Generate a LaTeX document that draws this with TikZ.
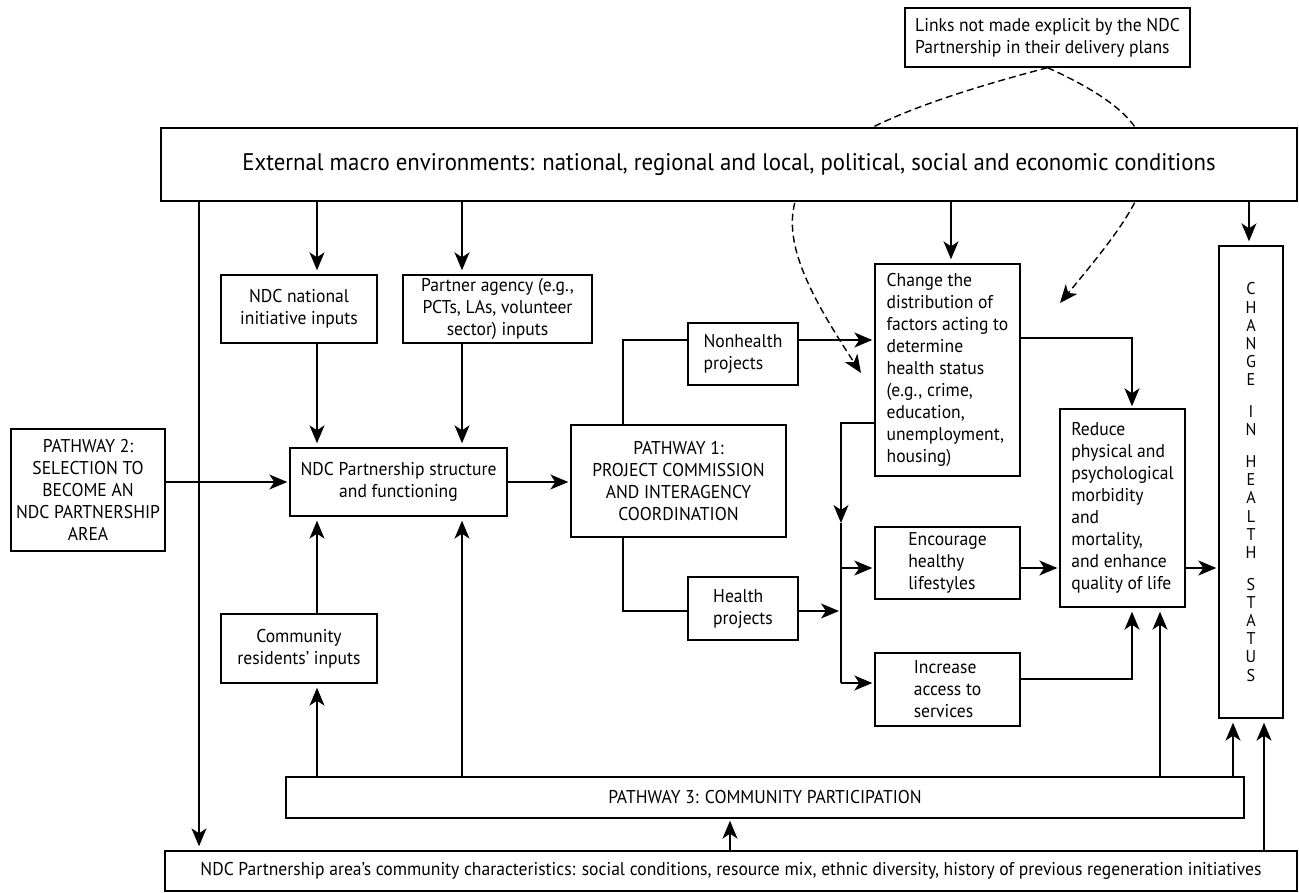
\documentclass[tikz,border=0pt]{standalone}
\usepackage{fontspec}
\setmainfont{PT Sans}[FakeStretch=0.95]
\usetikzlibrary{arrows.meta,backgrounds}
\newcommand\fsN{\fontsize{18.5}{22}\selectfont}
\newcommand\fsB{\fontsize{24}{28}\selectfont}
\newcommand\fsC{\fontsize{17}{18.2}\selectfont}
\begin{document}
\begin{tikzpicture}[x=1pt,y=-1pt,
 box/.style={draw, line width=1.4pt, fill=white, inner sep=0pt, align=center, font=\fsN},
 lbox/.style={box, align=left},
 conn/.style={line width=1.4pt},
 arr/.style={conn, -{Stealth[length=18pt,width=15pt,inset=5pt]}, shorten >=4pt},
 dsh/.style={conn, -{Stealth[length=18pt,width=15pt,inset=5pt]}, dash pattern=on 7pt off 4pt}]
\useasboundingbox (0,0) rectangle (1299,893);

% nodes
\node[lbox, minimum width=285pt, minimum height=59pt] (links) at (1047.5,37.5) {Links not made explicit by the NDC\\Partnership in their delivery plans};
\node[box, minimum width=1136pt, minimum height=73pt, font=\fsB] (ext) at (729,164.5) {External macro environments: national, regional and local, political, social and economic conditions};
\node[box, minimum width=156pt, minimum height=68pt] (ndcnat) at (299,309) {NDC national\\initiative inputs};
\node[box, minimum width=189pt, minimum height=68pt] (partner) at (497.5,309) {Partner agency (e.g.,\\PCTs, LAs, volunteer\\sector) inputs};
\node[box, minimum width=154pt, minimum height=122pt] (pw2) at (88,490) {PATHWAY 2:\\SELECTION TO\\BECOME AN\\NDC PARTNERSHIP\\AREA};
\node[box, minimum width=217pt, minimum height=68pt] (struct) at (398.5,482) {NDC Partnership structure\\and functioning};
\node[box, minimum width=215pt, minimum height=112pt] (pw1) at (678.5,481) {PATHWAY 1:\\PROJECT COMMISSION\\AND INTERAGENCY\\COORDINATION};
\node[lbox, minimum width=110pt, minimum height=62pt] (nonh) at (743,354) {Nonhealth\\projects};
\node[lbox, minimum width=110pt, minimum height=63pt] (health) at (743,608.5) {Health\\projects};
\node[lbox, minimum width=145pt, minimum height=212pt] (dist) at (947.5,370) {Change the\\distribution of\\factors acting to\\determine\\health status\\(e.g., crime,\\education,\\unemployment,\\housing)};
\node[lbox, minimum width=145pt, minimum height=72pt] (enc) at (947.5,563) {Encourage\\healthy\\lifestyles};
\node[lbox, minimum width=145pt, minimum height=73pt] (inc) at (947.5,689.5) {Increase\\access to\\services};
\node[lbox, minimum width=125pt, minimum height=198pt] (red) at (1122.5,508) {Reduce\\physical and\\psychological\\morbidity\\and\\mortality,\\and enhance\\quality of life};
\node[box, minimum width=64pt, minimum height=472pt, font=\fsC] (change) at (1251,482) {C\\H\\A\\N\\G\\E\\[13.5pt]I\\N\\[13.5pt]H\\E\\A\\L\\T\\H\\[13.5pt]S\\T\\A\\T\\U\\S};
\node[box, minimum width=156pt, minimum height=69pt] (resid) at (299,648.5) {Community\\residents’ inputs};
\node[box, minimum width=958pt, minimum height=41pt] (pw3) at (765,797.5) {PATHWAY 3: COMMUNITY PARTICIPATION};
\node[box, minimum width=1132pt, minimum height=40pt] (chars) at (731,871) {NDC Partnership area’s community characteristics: social conditions, resource mix, ethnic diversity, history of previous regeneration initiatives};

% routing levels
\coordinate (xA) at (317,0);
\coordinate (xB) at (462,0);
\coordinate (xL) at (199,0);
\coordinate (xP1) at (623,0);
\coordinate (xbus) at (841,0);
\coordinate (xdist) at (951,0);
\coordinate (xR1) at (1132,0);
\coordinate (xR2) at (1160,0);
\coordinate (xC0) at (1249,0);
\coordinate (xC1) at (1233,0);
\coordinate (xC2) at (1264,0);
\coordinate (xP3) at (730,0);
\coordinate (ynh) at (0,340);
\coordinate (ydl) at (0,423);
\coordinate (ymid) at (0,523);
\coordinate (ydr) at (0,338);
\coordinate (yenc) at (0,568);
\coordinate (yinc) at (0,683);
\coordinate (yir) at (0,679);
\coordinate (yhl) at (0,611);
\coordinate (tipL) at (861,373);
\coordinate (tipR) at (1060,303);

% dashed links behind external box
\begin{pgfonlayer}{background}
\draw[dsh] (links.south) .. controls (753,145) and (751,206) .. (tipL);
\draw[dsh] (links.south) .. controls (1195,134) and (1157,186) .. (tipR);
\end{pgfonlayer}

% connectors
\draw[arr] (xA |- ext.south) -- (xA |- ndcnat.north);
\draw[arr] (xB |- ext.south) -- (xB |- partner.north);
\draw[arr] (xA |- ndcnat.south) -- (xA |- struct.north);
\draw[arr] (xB |- partner.south) -- (xB |- struct.north);
\draw[arr] (xA |- pw3.north) -- (xA |- resid.south);
\draw[arr] (xA |- resid.north) -- (xA |- struct.south);
\draw[arr] (xB |- pw3.north) -- (xB |- struct.south);
\draw[arr] (xL |- ext.south) -- (xL |- chars.north);
\draw[arr, shorten >=2pt] (pw2.east |- struct.west) -- (struct.west);
\draw[arr, shorten >=2pt] (struct.east) -- (struct.east -| pw1.west);
\draw[conn] (xP1 |- pw1.north) |- (nonh.west |- ynh);
\draw[arr, shorten >=2pt] (nonh.east |- ynh) -- (dist.west |- ynh);
\draw[conn] (xP1 |- pw1.south) |- (health.west |- yhl);
\draw[arr, shorten >=2pt] (health.east |- yhl) -- (xbus |- yhl);
\draw[arr, shorten >=0pt] (dist.west |- ydl) -| (xbus |- ymid);
\draw[conn] (xbus |- ymid) -- (xbus |- yinc);
\draw[arr, shorten >=2pt] (xbus |- yenc) -- (enc.west |- yenc);
\draw[arr, shorten >=2pt] (xbus |- yinc) -- (inc.west |- yinc);
\draw[arr] (xdist |- ext.south) -- (xdist |- dist.north);
\draw[arr, shorten >=2pt] (dist.east |- ydr) -| (xR1 |- red.north);
\draw[arr, shorten >=2pt] (enc.east |- yenc) -- (red.west |- yenc);
\draw[arr, shorten >=2pt] (red.east |- yenc) -- (change.west |- yenc);
\draw[arr] (inc.east |- yir) -| (xR1 |- red.south);
\draw[arr] (xR2 |- pw3.north) -- (xR2 |- red.south);
\draw[arr] (xC0 |- ext.south) -- (xC0 |- change.north);
\draw[arr] (xC1 |- pw3.north) -- (xC1 |- change.south);
\draw[arr] (xC2 |- chars.north) -- (xC2 |- change.south);
\draw[arr, shorten >=2pt] (xP3 |- chars.north) -- (xP3 |- pw3.south);
\end{tikzpicture}
\end{document}
